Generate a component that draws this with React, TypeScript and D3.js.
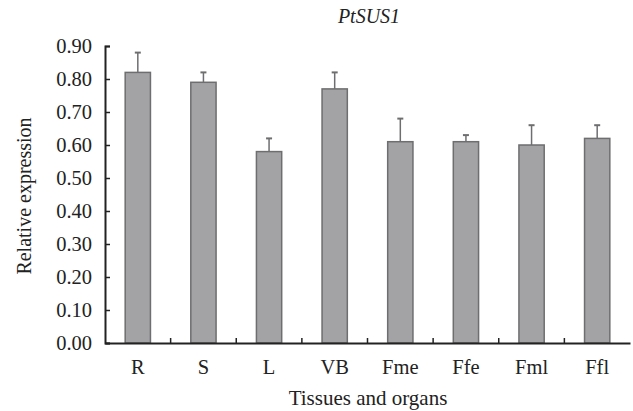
import React, { useEffect, useRef } from 'react';
import * as d3 from 'd3';

const tissues = ['R', 'S', 'L', 'VB', 'Fme', 'Ffe', 'Fml', 'Ffl'];
const expression = [0.82, 0.79, 0.58, 0.77, 0.61, 0.61, 0.60, 0.62];
const errorTop = [0.88, 0.82, 0.62, 0.82, 0.68, 0.63, 0.66, 0.66];
const yTicks = [0, 0.1, 0.2, 0.3, 0.4, 0.5, 0.6, 0.7, 0.8, 0.9];

export default function App() {
    const svgRef = useRef<SVGSVGElement | null>(null);

    useEffect(() => {
        if (!svgRef.current) return;
        const svg = d3.select(svgRef.current);
        svg.selectAll('*').remove();

        const width = 633;
        const height = 411;
        const margin = { top: 46, right: 3, bottom: 68, left: 105 };
        const font = '"Liberation Serif", "Times New Roman", serif';

        const x = d3.scaleBand<string>()
            .domain(tissues)
            .range([margin.left, width - margin.right])
            .padding(0);

        const y = d3.scaleLinear()
            .domain([0, 0.9])
            .range([height - margin.bottom, margin.top]);

        const barW = x.bandwidth() * 0.385;
        const cx = (d: string) => (x(d) as number) + x.bandwidth() / 2;

        // Bars
        svg.selectAll('.bar')
            .data(tissues)
            .join('rect')
            .attr('class', 'bar')
            .attr('x', d => cx(d) - barW / 2)
            .attr('y', (d, i) => y(expression[i]))
            .attr('width', barW)
            .attr('height', (d, i) => y(0) - y(expression[i]))
            .attr('fill', '#a3a3a5')
            .attr('stroke', '#6e6e70')
            .attr('stroke-width', 1.5);

        // Error bars (upper only)
        svg.selectAll('.err')
            .data(tissues)
            .join('line')
            .attr('class', 'err')
            .attr('x1', d => cx(d))
            .attr('x2', d => cx(d))
            .attr('y1', (d, i) => y(expression[i]))
            .attr('y2', (d, i) => y(errorTop[i]))
            .attr('stroke', '#6e6e70')
            .attr('stroke-width', 1.5);

        svg.selectAll('.cap')
            .data(tissues)
            .join('line')
            .attr('class', 'cap')
            .attr('x1', d => cx(d) - 3)
            .attr('x2', d => cx(d) + 3)
            .attr('y1', (d, i) => y(errorTop[i]))
            .attr('y2', (d, i) => y(errorTop[i]))
            .attr('stroke', '#6e6e70')
            .attr('stroke-width', 2);

        // Y axis
        const yAxis = svg.append('g')
            .attr('transform', `translate(${margin.left},0)`)
            .call(d3.axisLeft(y).tickValues(yTicks).tickFormat(d3.format('.2f')).tickSize(-5).tickPadding(13));
        yAxis.select('.domain').attr('stroke', '#222').attr('stroke-width', 2);
        yAxis.selectAll('.tick line').attr('stroke', '#222').attr('stroke-width', 1.5);
        yAxis.selectAll('.tick text')
            .attr('font-family', font)
            .attr('font-size', 20.5)
            .attr('fill', '#222');

        // X axis
        const xAxis = svg.append('g')
            .attr('transform', `translate(0,${y(0)})`)
            .call(d3.axisBottom(x).tickSize(0).tickPadding(16));
        xAxis.select('.domain').attr('stroke', '#222').attr('stroke-width', 2);
        xAxis.selectAll('.tick text')
            .attr('font-family', font)
            .attr('font-size', 20.5)
            .attr('fill', '#222');

        // Category separator ticks pointing up
        svg.selectAll('.sep')
            .data(tissues.slice(1))
            .join('line')
            .attr('class', 'sep')
            .attr('x1', d => x(d) as number)
            .attr('x2', d => x(d) as number)
            .attr('y1', y(0))
            .attr('y2', y(0) - 5)
            .attr('stroke', '#222')
            .attr('stroke-width', 1.5);

        // Title
        svg.append('text')
            .attr('x', 369)
            .attr('y', 23)
            .attr('text-anchor', 'middle')
            .attr('font-family', font)
            .attr('font-style', 'italic')
            .attr('font-size', 20)
            .attr('fill', '#222')
            .text('PtSUS1');

        // Axis titles
        svg.append('text')
            .attr('x', 368)
            .attr('y', 405)
            .attr('text-anchor', 'middle')
            .attr('font-family', font)
            .attr('font-size', 21)
            .attr('fill', '#222')
            .text('Tissues and organs');

        svg.append('text')
            .attr('transform', `translate(31,196) rotate(-90)`)
            .attr('text-anchor', 'middle')
            .attr('font-family', font)
            .attr('font-size', 20)
            .attr('fill', '#222')
            .text('Relative expression');
    }, []);

    return (
        <svg
            ref={svgRef}
            width={633}
            height={411}
            style={{ position: 'absolute', left: 0, top: 0, background: '#fff' }}
        />
    );
}
